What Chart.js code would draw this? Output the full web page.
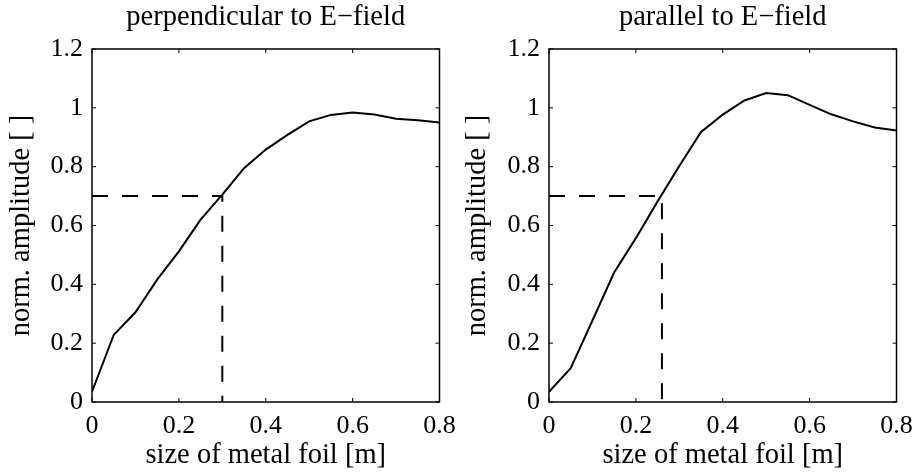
<!DOCTYPE html>
<html lang="en">
<head>
<meta charset="UTF-8">
<title>norm. amplitude vs size of metal foil</title>
<script src="https://cdn.jsdelivr.net/npm/chart.js@4.4.1/dist/chart.umd.min.js"></script>
<style>
* {
    margin: 0;
    padding: 0;
    box-sizing: border-box;
}
body {
    width: 916px;
    height: 476px;
    background: #fff;
    overflow: hidden;
    position: relative;
}
.panel {
    position: absolute;
    top: 0;
    width: 458px;
    height: 476px;
}
#leftPanel { left: 0; }
#rightPanel { left: 458px; }
</style>
</head>
<body>
<div class="panel" id="leftPanel"><canvas id="perpChart" width="458" height="476"></canvas></div>
<div class="panel" id="rightPanel"><canvas id="parChart" width="458" height="476"></canvas></div>
<script>
// values
var foilSize = [0, 0.05, 0.1, 0.15, 0.2, 0.25, 0.3, 0.35, 0.4, 0.45, 0.5, 0.55, 0.6, 0.65, 0.7, 0.75, 0.8];
var perpAmplitude = [0.035, 0.228, 0.305, 0.416, 0.512, 0.62, 0.705, 0.795, 0.858, 0.908, 0.954, 0.976, 0.984, 0.977, 0.963, 0.958, 0.95];
var parAmplitude = [0.035, 0.115, 0.277, 0.44, 0.557, 0.682, 0.802, 0.918, 0.977, 1.025, 1.05, 1.043, 1.01, 0.978, 0.954, 0.933, 0.923];

// dashed 0.7 level guide lines
var perpGuideX = [0, 0.3, 0.3];
var perpGuideY = [0.7, 0.7, 0];
var parGuideX = [0, 0.26, 0.26];
var parGuideY = [0.7, 0.7, 0];

var xTickValues = [0, 0.2, 0.4, 0.6, 0.8];
var xTickLabels = ['0', '0.2', '0.4', '0.6', '0.8'];
var yTickValues = [0, 0.2, 0.4, 0.6, 0.8, 1, 1.2];
var yTickLabels = ['0', '0.2', '0.4', '0.6', '0.8', '1', '1.2'];

var serif = "'Liberation Serif', 'Times New Roman', serif";
var yTickFont = { family: serif, size: 26, lineHeight: 1.2 };
// tall line box pushes the x labels down without ticks.padding (which would eat into the right margin)
var xTickFont = { family: serif, size: 26, lineHeight: 1.87 };
var labelFont = { family: serif, size: 28.5, lineHeight: 1.2 };

function toPoints(xs, ys) {
    return xs.map(function(x, i) { return { x: x, y: ys[i] }; });
}

// matlab style box with inward ticks
var matlabAxes = {
    id: 'matlabAxes',
    afterDraw: function(chart) {
        var ctx = chart.ctx;
        var a = chart.chartArea;
        var xs = chart.scales.x;
        var ys = chart.scales.y;
        var len = 4;
        ctx.save();
        ctx.strokeStyle = '#000';
        ctx.lineWidth = 1;
        ctx.beginPath();
        xTickValues.forEach(function(v) {
            var px = xs.getPixelForValue(v);
            ctx.moveTo(px, a.bottom); ctx.lineTo(px, a.bottom - len);
            ctx.moveTo(px, a.top); ctx.lineTo(px, a.top + len);
        });
        yTickValues.forEach(function(v) {
            var py = ys.getPixelForValue(v);
            ctx.moveTo(a.left, py); ctx.lineTo(a.left + len, py);
            ctx.moveTo(a.right, py); ctx.lineTo(a.right - len, py);
        });
        ctx.stroke();
        ctx.lineWidth = 1.5;
        ctx.strokeRect(a.left, a.top, a.right - a.left, a.bottom - a.top);
        ctx.restore();
    }
};

function makeChart(canvasId, title, amp, guideX, guideY, yAxisWidth, padRight, yTitlePad) {
    return new Chart(document.getElementById(canvasId), {
        type: 'line',
        data: {
            datasets: [{
                data: toPoints(foilSize, amp),
                borderColor: '#000',
                borderWidth: 2,
                pointRadius: 0,
                tension: 0,
                fill: false
            }, {
                data: toPoints(guideX, guideY),
                borderColor: '#000',
                borderWidth: 2,
                borderDash: [16, 14],
                pointRadius: 0,
                tension: 0,
                fill: false
            }]
        },
        options: {
            responsive: false,
            animation: false,
            devicePixelRatio: 1,
            layout: { padding: { left: 0, right: padRight, top: 0, bottom: 0 } },
            plugins: {
                legend: { display: false },
                tooltip: { enabled: false },
                title: { display: false }
            },
            scales: {
                x: {
                    type: 'linear',
                    position: 'bottom',
                    min: 0,
                    max: 0.8,
                    grid: { display: false, drawTicks: false },
                    border: { display: false },
                    afterBuildTicks: function(s) { s.ticks = xTickValues.map(function(v) { return { value: v }; }); },
                    afterFit: function(s) { s.height = 74; },
                    ticks: {
                        font: xTickFont,
                        color: '#000',
                        padding: 0,
                        maxRotation: 0,
                        autoSkip: false,
                        callback: function(v, i) { return xTickLabels[i]; }
                    },
                    title: {
                        display: true,
                        text: 'size of metal foil [m]',
                        font: labelFont,
                        color: '#000',
                        padding: { top: 0, bottom: 3.2 }
                    }
                },
                xTop: {
                    type: 'linear',
                    position: 'top',
                    min: 0,
                    max: 0.8,
                    grid: { display: false, drawTicks: false },
                    border: { display: false },
                    ticks: { display: false },
                    afterFit: function(s) { s.height = 49; },
                    title: {
                        display: true,
                        text: title,
                        font: labelFont,
                        color: '#000',
                        padding: { top: 0, bottom: 0 }
                    }
                },
                y: {
                    type: 'linear',
                    position: 'left',
                    min: 0,
                    max: 1.2,
                    grid: { display: false, drawTicks: false },
                    border: { display: false },
                    afterBuildTicks: function(s) { s.ticks = yTickValues.map(function(v) { return { value: v }; }); },
                    afterFit: function(s) { s.width = yAxisWidth; },
                    ticks: {
                        font: yTickFont,
                        color: '#000',
                        padding: 9,
                        autoSkip: false,
                        callback: function(v, i) { return yTickLabels[i]; }
                    },
                    title: {
                        display: true,
                        text: 'norm. amplitude [ ]',
                        font: labelFont,
                        color: '#000',
                        padding: { top: yTitlePad, bottom: 0 }
                    }
                }
            }
        },
        plugins: [matlabAxes]
    });
}

makeChart('perpChart', 'perpendicular to E\u2212field', perpAmplitude, perpGuideX, perpGuideY, 92, 18.5, 4.8);
makeChart('parChart', 'parallel to E\u2212field', parAmplitude, parGuideX, parGuideY, 91, 19.5, 2.8);
</script>
</body>
</html>
